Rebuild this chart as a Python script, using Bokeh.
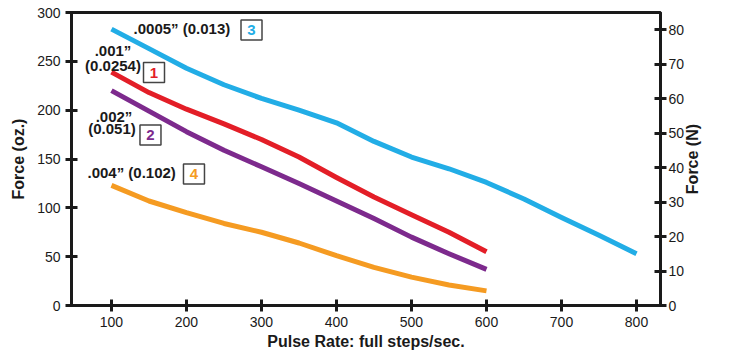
import math
from bokeh.plotting import figure
from bokeh.models import Range1d, LinearAxis, FixedTicker
from bokeh.core.properties import value
from bokeh.embed import file_html
from bokeh.resources import INLINE

# ---- data (force in oz vs pulse rate, full steps/sec) ----
pulse_long = [100, 150, 200, 250, 300, 350, 400, 450, 500, 550, 600, 650, 700, 750, 800]
f_0005 = [283, 263, 243, 226, 212, 200, 187, 168, 152, 140, 126, 109, 90, 72, 53]   # curve 3
pulse_short = [100, 150, 200, 250, 300, 350, 400, 450, 500, 550, 600]
f_001 = [239, 218, 201, 186, 170, 152, 131, 111, 93, 75, 55]                         # curve 1
f_002 = [220, 199, 178, 159, 142, 125, 107, 89, 70, 53, 37]                          # curve 2
f_004 = [123, 107, 95, 84, 75, 64, 51, 39, 29, 21, 15]                               # curve 4

x_ticks = [100, 200, 300, 400, 500, 600, 700, 800]
oz_ticks = [0, 50, 100, 150, 200, 250, 300]
n_ticks = [0, 10, 20, 30, 40, 50, 60, 70, 80]

CYAN = "#22ade6"
RED = "#e31e27"
PURPLE = "#7d2a8d"
ORANGE = "#f59b22"
INK = "#1a1a1a"
FONT = "Liberation Sans"

p = figure(width=728, height=355, output_backend="svg", toolbar_location=None,
           x_range=Range1d(46.7, 832), y_range=Range1d(0, 300),
           min_border_left=71, min_border_right=68, min_border_top=12, min_border_bottom=50)
p.extra_y_ranges = {"N": Range1d(0, 85)}
p.grid.visible = False
p.outline_line_color = INK
p.outline_line_width = 3
p.background_fill_color = "white"
p.border_fill_color = "white"

for xs, ys, c in [(pulse_long, f_0005, CYAN), (pulse_short, f_001, RED),
                  (pulse_short, f_002, PURPLE), (pulse_short, f_004, ORANGE)]:
    p.line(xs, ys, line_color=c, line_width=5, line_join="round", line_cap="butt")

def style(ax):
    ax.axis_line_color = INK
    ax.axis_line_width = 3
    ax.major_tick_line_color = INK
    ax.major_tick_line_width = 3
    ax.major_tick_in = 6
    ax.major_tick_out = 6
    ax.minor_tick_line_color = None
    ax.major_label_text_font = FONT
    ax.major_label_text_font_size = "14px"
    ax.major_label_text_color = INK
    ax.axis_label_text_font = FONT
    ax.axis_label_text_font_size = "16px"
    ax.axis_label_text_font_style = "bold"
    ax.axis_label_text_color = INK

xa = p.xaxis[0]
style(xa)
xa.ticker = FixedTicker(ticks=x_ticks)
xa.axis_label = "Pulse Rate: full steps/sec."
xa.major_label_standoff = 5
xa.axis_label_standoff = 3

ya = p.yaxis[0]
style(ya)
ya.ticker = FixedTicker(ticks=oz_ticks)
ya.axis_label = "Force (oz.)"
ya.major_label_standoff = 5
ya.axis_label_standoff = 7

# right axis in newtons (ticks and numbers)
ra = LinearAxis(y_range_name="N")
style(ra)
ra.ticker = FixedTicker(ticks=n_ticks)
ra.major_label_standoff = 2
p.add_layout(ra, "right")

# right axis title, reading bottom-to-top (drawn as a single rotated tick label,
# which is anchored at its start, so the tick sits where the text begins)
TITLE_START = 114
rt = LinearAxis()
style(rt)
rt.ticker = FixedTicker(ticks=[TITLE_START])
rt.major_label_overrides = {TITLE_START: "Force (N)"}
rt.major_label_orientation = math.pi / 2
rt.major_label_text_font_size = "16px"
rt.major_label_text_font_style = "bold"
rt.major_label_standoff = 5
rt.axis_line_color = None
rt.major_tick_line_color = None
rt.major_tick_in = 0
rt.major_tick_out = 0
p.add_layout(rt, "right")

# ---- curve annotations ----
lab_text = [".0005\u201d (0.013)", ".001\u201d", "(0.0254)", ".002\u201d", "(0.051)", ".004\u201d (0.102)"]
lab_x = [129.4, 102, 102, 103.4, 100.7, 68]
lab_y = [283.5, 261, 245.6, 193.4, 181.2, 136.1]
lab_align = ["left", "center", "center", "center", "center", "left"]
p.text(x=lab_x, y=lab_y, text=lab_text, text_align=lab_align, text_baseline="middle",
       text_font=value(FONT), text_font_size="15px", text_font_style="bold", text_color=INK)

box_text = ["3", "1", "2", "4"]
box_x = [286.7, 156.7, 152, 210]
box_y = [282, 238.5, 174.5, 134.6]
box_color = [CYAN, RED, PURPLE, ORANGE]
p.rect(x=box_x, y=box_y, width=21, height=20, width_units="screen", height_units="screen",
       fill_color="white", line_color="#444444", line_width=1.5)
p.text(x=box_x, y=box_y, text=box_text, text_align="center", text_baseline="middle",
       text_font=value(FONT), text_font_size="15px", text_font_style="bold", text_color=box_color)

open("out.html", "w").write(file_html(p, INLINE))
